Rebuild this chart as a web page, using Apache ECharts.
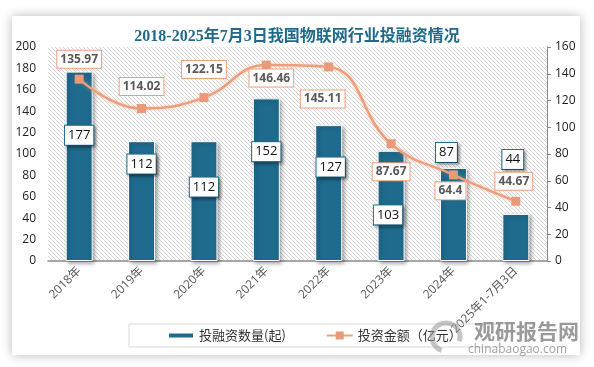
<!DOCTYPE html>
<html>
<head>
<meta charset="utf-8">
<script src="https://cdn.jsdelivr.net/npm/echarts@6/dist/echarts.min.js"></script>
<style>
html,body{margin:0;padding:0;background:#fff;}
#chart{width:594px;height:367px;}
</style>
</head>
<body>
<div id="chart"></div>
<script>
// ---- data ----
const titleText = '2018-2025年7月3日我国物联网行业投融资情况';
const categories = ['2018年','2019年','2020年','2021年','2022年','2023年','2024年','2025年1-7月3日'];
const dealCounts = [177, 112, 112, 152, 127, 103, 87, 44];
const amounts = [135.97, 114.02, 122.15, 146.46, 145.11, 87.67, 64.4, 44.67];
const leftTickLabels = [0, 20, 40, 60, 80, 100, 120, 140, 160, 180, 200];
const rightTickLabels = [0, 20, 40, 60, 80, 100, 120, 140, 160];
const seriesNames = ['投融资数量(起)', '投资金额（亿元）'];

// ---- layout (label placement, not data) ----
const barLabelOffsets = [[0,-31],[0,-37],[0,-14],[0,-28],[2,-26],[-3,9],[-7,-62],[-3,-78]];
const lineLabelOffsets = [[0,-20],[0,-22],[0,-28],[5,13],[-6,32],[0,28],[-3,16],[-2,-20]];

const CJK = '"Noto Sans CJK SC"';
const NUM = '"Open Sans", "Noto Sans CJK SC"';

// hatch pattern
const pc = document.createElement('canvas');
pc.width = 4; pc.height = 4;
const pctx = pc.getContext('2d');
pctx.strokeStyle = '#d6d6d6';
pctx.lineWidth = 1;
pctx.beginPath();
pctx.moveTo(-1,-1); pctx.lineTo(5,5);
pctx.moveTo(3,-1); pctx.lineTo(5,1);
pctx.moveTo(-1,3); pctx.lineTo(1,5);
pctx.stroke();

const chart = echarts.init(document.getElementById('chart'), null, {renderer:'canvas'});

const barData = dealCounts.map((v, i) => ({
  value: v,
  label: { offset: barLabelOffsets[i] }
}));
const lineData = amounts.map((v, i) => ({
  value: v,
  label: { offset: lineLabelOffsets[i] }
}));

const option = {
  animation: false,
  backgroundColor: '#ffffff',
  title: {
    text: titleText,
    left: 'center',
    top: 24,
    textStyle: {
      fontFamily: '"Liberation Serif", "Noto Sans CJK SC"',
      fontSize: 16,
      fontWeight: 'bold',
      color: '#1f6a8a'
    }
  },
  graphic: [
    {
      type: 'rect',
      z: -10,
      shape: { x: 12, y: 16, width: 568, height: 339 },
      style: { fill: '#ffffff', shadowBlur: 10, shadowColor: 'rgba(0,0,0,0.28)', shadowOffsetX: 0, shadowOffsetY: 0 }
    },
    {
      type: 'arc',
      z: 100,
      shape: { cx: 446, cy: 337, r: 14, startAngle: Math.PI * 0.6, endAngle: Math.PI * 2.1 },
      style: { stroke: 'rgba(150,150,150,0.55)', lineWidth: 5, fill: null }
    },
    {
      type: 'text',
      z: 100,
      left: 474, top: 321,
      style: { text: '观研报告网', fontSize: 21, fontWeight: 'bold', fontFamily: CJK, fill: 'rgba(120,120,120,0.75)' }
    },
    {
      type: 'text',
      z: 100,
      left: 468, top: 344,
      style: { text: 'chinabaogao.com', fontSize: 12, fontFamily: '"Open Sans"', fill: 'rgba(130,130,130,0.75)' }
    }
  ],
  legend: {
    left: 129,
    top: 324,
    padding: [5, 38, 5, 38],
    itemGap: 40,
    itemWidth: 26,
    itemHeight: 10,
    borderColor: '#d9d9d9',
    borderWidth: 1,
    textStyle: { fontFamily: CJK, fontSize: 13, color: '#333' },
    data: [
      { name: seriesNames[0], icon: 'path://M0,2H26V8H0Z' },
      { name: seriesNames[1] }
    ]
  },
  grid: {
    left: 48, right: 47, top: 47, bottom: 106,
    show: true,
    borderWidth: 0,
    backgroundColor: { image: pc, repeat: 'repeat' }
  },
  xAxis: {
    type: 'category',
    data: categories,
    axisLine: { lineStyle: { color: '#8c8c8c', width: 1.5 } },
    axisTick: { show: false },
    axisLabel: {
      rotate: 45,
      interval: 0,
      margin: 8,
      fontFamily: NUM,
      fontSize: 12,
      color: '#595959'
    }
  },
  yAxis: [
    {
      type: 'value',
      min: leftTickLabels[0],
      max: leftTickLabels[leftTickLabels.length - 1],
      interval: leftTickLabels[1] - leftTickLabels[0],
      axisLine: { show: false },
      axisTick: { show: false },
      splitLine: { show: false },
      axisLabel: { margin: 12, fontFamily: NUM, fontSize: 12, color: '#222' }
    },
    {
      type: 'value',
      position: 'right',
      min: rightTickLabels[0],
      max: rightTickLabels[rightTickLabels.length - 1],
      interval: rightTickLabels[1] - rightTickLabels[0],
      axisLine: { show: true, lineStyle: { color: '#8c8c8c', width: 1 } },
      axisTick: { show: true, length: 4, lineStyle: { color: '#8c8c8c' } },
      splitLine: { show: false },
      axisLabel: { margin: 8, fontFamily: NUM, fontSize: 12, color: '#222' }
    }
  ],
  series: [
    {
      name: seriesNames[0],
      type: 'bar',
      yAxisIndex: 0,
      barWidth: 27,
      data: barData,
      itemStyle: {
        color: '#1f6b8e',
        borderColor: '#ffffff',
        borderWidth: 1,
        shadowBlur: 4,
        shadowColor: 'rgba(0,0,0,0.35)',
        shadowOffsetX: 2,
        shadowOffsetY: 2
      },
      label: {
        show: true,
        position: 'inside',
        fontFamily: NUM,
        fontSize: 13,
        color: '#111',
        backgroundColor: '#ffffff',
        borderColor: '#1f6b8e',
        borderWidth: 1,
        padding: [3, 3, 3, 3],
        shadowBlur: 3,
        shadowColor: 'rgba(0,0,0,0.35)',
        shadowOffsetX: 2,
        shadowOffsetY: 2
      },
      z: 2
    },
    {
      name: seriesNames[1],
      type: 'line',
      yAxisIndex: 1,
      smooth: 0.45,
      symbol: 'rect',
      symbolSize: 9,
      data: lineData,
      lineStyle: { color: '#ef9e7b', width: 2.5, shadowBlur: 4, shadowColor: 'rgba(239,158,123,0.5)' },
      itemStyle: { color: '#ea9a78' },
      label: {
        show: true,
        position: 'inside',
        fontFamily: NUM,
        fontSize: 12,
        fontWeight: 'bold',
        color: '#595959',
        backgroundColor: '#ffffff',
        borderColor: '#ef9e7b',
        borderWidth: 1,
        padding: [3, 3, 2, 3]
      },
      z: 5
    }
  ]
};

chart.setOption(option);
</script>
</body>
</html>
